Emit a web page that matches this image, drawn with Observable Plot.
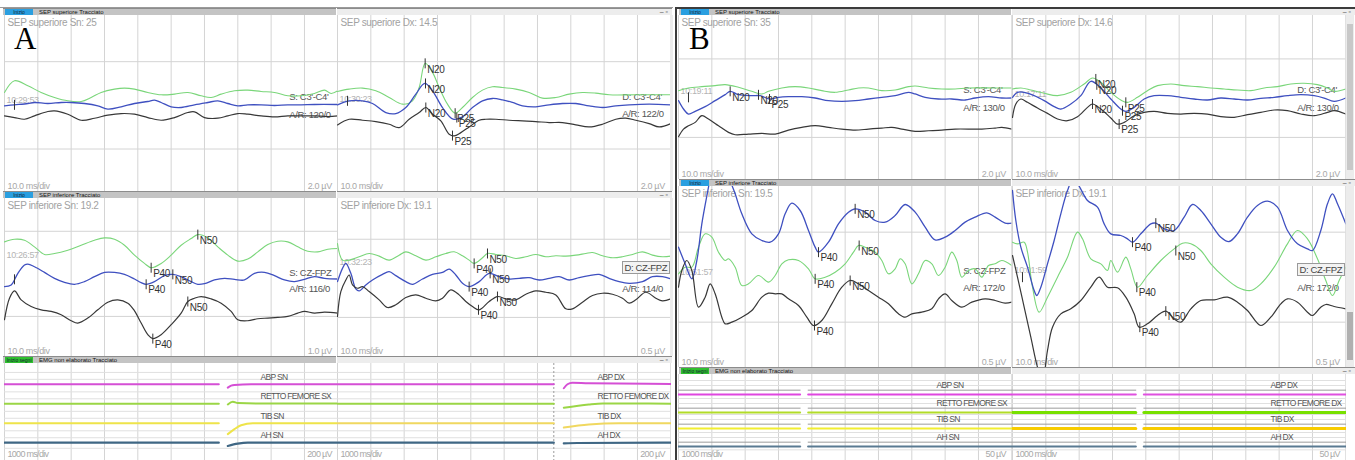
<!DOCTYPE html>
<html><head><meta charset="utf-8">
<script src="https://cdn.jsdelivr.net/npm/d3@7"></script>
<script src="https://cdn.jsdelivr.net/npm/@observablehq/plot@0.6"></script>
<style>
html,body{margin:0;padding:0;background:#fff;}
#root{position:relative;width:1355px;height:460px;overflow:hidden;font-family:"Liberation Sans",Arial,sans-serif;background:#fff;}
#root svg{display:block;}
</style></head>
<body><div id="root"></div>
<script>
// ===================== DATA (time ms, amplitude µV) =====================
// Panel A – SEP superiore Sn
const A_supSn_green = [[0,.5],[3,1.2],[7,.9],[11,.5],[15,.2],[19,0],[23,-.04],[26,.2],[29,.5],[33,.7],[36,.76],[39,.7],[43,.5],[47,.36],[51,.4],[55,.5],[59,.3],[62,.2],[65,.4],[69,.6],[73,.64],[77,.56],[81,.5],[85,.3],[89,.3],[93,.44],[96,.64],[98,.44],[100,.6]];
const A_supSn_blue = [[0,-.3],[3,-.24],[7,-.16],[9,-.1],[13,-.16],[17,-.1],[20,-.1],[24,-.16],[28,-.3],[31,-.5],[35,-.36],[39,-.16],[43,-.04],[45,.04],[47,-.1],[50,-.36],[53,-.4],[57,-.24],[61,-.1],[64,0],[67,-.16],[70,-.3],[73,-.24],[77,-.24],[81,-.28],[85,-.24],[89,-.24],[93,-.22],[100,-.22]];
const A_supSn_black = [[0,-.9],[3,-1],[6,-1.1],[9,-.9],[13,-.64],[15,-.6],[19,-.8],[23,-1.16],[27,-1.04],[31,-.86],[35,-.76],[39,-.8],[43,-1],[47,-1.16],[51,-1],[55,-.7],[57,-.66],[60,-1],[64,-1.04],[67,-.9],[70,-.76],[73,-.8],[77,-.9],[81,-.96],[85,-.9],[89,-.9],[93,-.9],[97,-.94],[100,-.9]];
const A_supSn_peaks = [["",3,-.24]];
// Panel A – SEP superiore Dx
const A_supDx_green = [[0,.56],[3.5,.7],[7.5,.76],[11.5,.6],[15.5,.2],[19.5,-.2],[22.5,0],[24.5,.8],[26.3,2.24],[28.5,1.7],[30.5,.8],[33,-.2],[35.3,-.74],[37.5,-.4],[40.5,.2],[43.5,.64],[46.5,.84],[49.5,.8],[53.5,.7],[57.5,.5],[61.5,.16],[65.5,.2],[69.5,.4],[73.5,.5],[77.5,.46],[81.5,.36],[89.5,.36],[100,.36]];
const A_supDx_blue = [[0,-.24],[3.5,0],[7.5,0],[10.5,-.16],[14.5,-.7],[17.5,-.76],[20.5,-.4],[23.5,.4],[26.2,1.04],[28.5,.6],[31.5,-.4],[34.7,-1.1],[37.5,-.96],[40.5,-.4],[43.5,0],[46.5,.14],[49.5,.06],[52.5,-.1],[55.5,-.3],[59.5,-.36],[63.5,-.24],[67.5,-.16],[71.5,-.16],[75.5,-.3],[79.5,-.4],[83.5,-.3],[87.5,-.24],[93.5,-.2],[100,-.24]];
const A_supDx_black = [[0,-1.44],[3.5,-1.1],[7.5,-1.16],[11.5,-1.24],[15.5,-1.4],[18.5,-1.6],[21.5,-1.1],[24.5,-.7],[26.5,-.4],[28.5,-.8],[31,-1.2],[33.5,-2],[35,-2.1],[37,-1.9],[39.5,-1.56],[42.5,-1.16],[44.5,-1.1],[47.5,-1.1],[51.5,-1.16],[55.5,-1.2],[59.5,-1.24],[63.5,-1.3],[67.5,-1.3],[71.5,-1.44],[75.5,-1.56],[79.5,-1.4],[83.5,-1.1],[86.5,-1.04],[89.5,-1.16],[93.5,-1.36],[96.5,-1.56],[100,-1.36]];
const A_supDx_peaks = [["N20",26.3,2.24],["N20",26.4,1.04],["N20",26.5,-.4],["P25",35.3,-.74],["P25",35.8,-1.0],["P25",34.5,-2.08],["",3,0]];
// Panel A – SEP inferiore Sn
const A_infSn_green = [[0,.8],[3,.88],[6,.85],[9,.65],[12,.42],[15,.45],[19,.55],[23,.7],[27,.85],[30,.92],[33,.88],[36,.7],[39,.4],[42,.15],[44,.02],[47,.15],[50,.4],[53,.7],[56,.9],[58,1.02],[61,.92],[64,.65],[67,.4],[70,.22],[73,.28],[76,.5],[79,.72],[82,.82],[85,.8],[88,.65],[91,.52],[94,.5],[97,.58],[100,.6]];
const A_infSn_blue = [[0,-.55],[2,-.5],[4,-.15],[6,.1],[7,.13],[9,.05],[12,-.12],[15,-.3],[18,-.42],[21,-.48],[24,-.4],[27,-.25],[30,-.12],[33,-.12],[36,-.18],[39,-.32],[41,-.43],[42.5,-.48],[45,-.4],[48,-.22],[50.5,-.18],[53,-.25],[56,-.4],[58,-.48],[60,-.46],[63,-.35],[66,-.3],[69,-.33],[72,-.35],[75,-.15],[78,-.12],[81,-.22],[84,-.35],[87,-.4],[90,-.33],[93,-.25],[96,-.3],[100,-.32]];
const A_infSn_black = [[0,-1.55],[1.5,-.9],[3,-.68],[5,-.95],[8,-1.15],[11,-1.25],[14,-1.3],[17,-1.4],[20,-1.58],[22,-1.65],[25,-1.5],[28,-1.25],[31,-1.02],[34,-.95],[37,-1.05],[39,-1.28],[41,-1.65],[43,-2],[44.5,-2.12],[47,-2],[50,-1.7],[53,-1.35],[55,-1],[57,-.9],[59,-.85],[62,-.92],[65,-1.05],[68,-1.3],[70,-1.55],[73,-1.58],[76,-1.52],[79,-1.5],[82,-1.48],[85,-1.45],[88,-1.35],[90,-1.3],[93,-1.35],[96,-1.32],[100,-1.35]];
const A_infSn_peaks = [["P40",44,.02],["N50",58,1.02],["P40",42.5,-.48],["N50",50.5,-.18],["P40",44.5,-2.12],["N50",55,-1],["",3,-.33]];
// Panel A – SEP inferiore Dx
const A_infDx_green = [[0,.375],[1.5,.125],[3.5,.125],[6.5,.175],[9.5,.225],[12.5,.185],[15.5,.125],[18.5,.2],[20.5,.25],[23.5,.19],[26.5,.125],[29.5,.175],[32.5,.225],[35,.25],[37.5,.19],[39.5,.125],[41,.075],[43.5,.16],[45,.225],[47.5,.21],[50.5,.19],[53.5,.15],[56.5,.175],[59.5,.21],[62.5,.175],[65.5,.19],[68.5,.185],[71.5,.2],[74.5,.225],[76.5,.24],[79.5,.19],[82.5,.16],[85.5,.175],[88.5,.21],[91.5,.25],[94.5,.2],[97.5,.175],[100,.185]];
const A_infDx_blue = [[0,-.2],[1.5,0],[2.5,.075],[4,-.075],[5.5,-.31],[6.5,-.34],[8.5,-.25],[10.5,-.175],[13.5,-.09],[15.5,-.05],[17.5,-.11],[20.5,-.2],[22.5,-.24],[25.5,-.16],[28.5,-.09],[31.5,-.06],[33.5,-.01],[35.5,-.1],[37.5,-.225],[39.5,-.275],[42.5,-.2],[45.5,-.075],[48.5,-.125],[51.5,-.16],[54.5,-.15],[57.5,-.14],[60.5,-.175],[63.5,-.15],[66.5,-.125],[69.5,-.175],[72.5,-.14],[75.5,-.11],[78.5,-.09],[81.5,-.15],[84.5,-.2],[87.5,-.225],[91.5,-.2],[94.5,-.125],[97.5,-.125],[100,-.16]];
const A_infDx_black = [[0,-.725],[1,-.35],[2.5,-.175],[3.5,-.1],[4.5,-.25],[6,-.3],[7.5,-.275],[9.5,-.35],[12.5,-.475],[15,-.59],[17.5,-.55],[20.5,-.44],[23.5,-.4],[26.5,-.45],[29.5,-.49],[31.5,-.45],[34,-.325],[36.5,-.4],[38.5,-.5],[40.5,-.575],[42.5,-.625],[45.5,-.5],[48,-.425],[50.5,-.46],[53.5,-.475],[56.5,-.39],[59.5,-.34],[62.5,-.36],[65.5,-.4],[68.5,-.61],[70.5,-.61],[73.5,-.51],[76.5,-.41],[79.5,-.375],[82.5,-.39],[85.5,-.45],[87.5,-.525],[89.5,-.475],[92.5,-.36],[95.5,-.45],[97.5,-.49],[100,-.46]];
const A_infDx_peaks = [["P40",41,.075],["N50",45,.225],["P40",39.5,-.275],["N50",45.8,-.075],["P40",42.3,-.625],["N50",48,-.425]];
// Panel B – SEP superiore Sn
const B_supSn_green = [[0,.6],[3,.76],[7,.84],[11,.9],[14,.96],[18,.8],[22,.56],[25,.4],[27,.56],[31,.76],[35,.84],[39,.76],[43,.6],[47,.5],[51,.64],[54,.76],[57,.76],[61,.6],[65,.64],[69,.84],[71,.88],[75,.76],[79,.7],[83,.7],[87,.76],[95,.76],[100,.76]];
const B_supSn_blue = [[0,0],[1.5,-.5],[3,-.8],[5,-.64],[8,-.36],[11,0],[14,.36],[15.5,.56],[18,.36],[22,.3],[24.5,.3],[27.3,.1],[30,.2],[33,.24],[37,.24],[41,.16],[45,0],[49,-.04],[53,0],[57,.1],[61,.2],[65,.3],[69,.5],[71,.4],[74,.2],[78,.1],[82,.1],[86,.04],[89,.16],[93,.24],[97,.16],[100,.16]];
const B_supSn_black = [[0,-2.16],[1.5,-1.7],[3,-1.5],[5,-1.3],[7,-.9],[9,-1.1],[12,-1.5],[15,-1.9],[17,-2.04],[21,-2],[25,-1.96],[29,-2],[33,-1.76],[37,-1.6],[41,-1.5],[45,-1.6],[49,-1.7],[53,-1.76],[57,-1.7],[61,-1.64],[64,-1.6],[67,-1.7],[71,-1.84],[75,-1.8],[79,-1.76],[83,-1.7],[91,-1.7],[95,-1.64],[97,-1.6],[100,-1.7]];
const B_supSn_peaks = [["N20",15.5,.56],["N20",24,.35],["P25",27.3,.1],["",3,.2]];
// Panel B – SEP superiore Dx
const B_supDx_green = [[0,.7],[2.5,.76],[5.5,.64],[9.5,.44],[13.5,.3],[17.5,.5],[21.5,1],[24,1.36],[26.5,1.1],[29.5,.5],[32.5,.04],[34.5,-.1],[37.5,.2],[40.5,.6],[43.5,.9],[47.5,1],[51.5,.9],[55.5,.84],[59.5,.76],[63.5,.7],[67.5,.64],[71.5,.6],[75.5,.76],[79.5,.84],[83.5,1],[87.5,1.04],[91.5,.96],[94.5,.76],[96.5,.56],[100,.7]];
const B_supDx_blue = [[0,.2],[1.5,.5],[3.5,.5],[6.5,.3],[9.5,0],[12.5,-.36],[14.5,-.5],[17.5,-.2],[20.5,.3],[23.5,1.16],[26.5,.76],[29.5,.1],[32.5,-.5],[34,-.64],[36.5,-.4],[39.5,.1],[42.5,.3],[46.5,.3],[50.5,.2],[54.5,.1],[58.5,.04],[62.5,.16],[66.5,.1],[70.5,.04],[74.5,.14],[78.5,.2],[82.5,.3],[86.5,.36],[90.5,.3],[93.5,.16],[96.5,-.04],[100,.16]];
const B_supDx_black = [[0,-1],[1,-.2],[2.5,.1],[4.5,-.1],[7.5,-.44],[10.5,-.76],[13.5,-1.1],[16.5,-1.2],[19.5,-.96],[22.5,-.4],[24,-.2],[26.5,-.5],[29.5,-1.04],[31.5,-1.4],[33.5,-1.3],[36.5,-.9],[39.5,-.7],[42.5,-.64],[46.5,-.76],[50.5,-.8],[54.5,-.76],[58.5,-.8],[62.5,-.96],[66.5,-1],[70.5,-.84],[74.5,-.7],[78.5,-.56],[82.5,-.6],[86.5,-.8],[90.5,-.9],[94.5,-.7],[96.5,-.6],[100,-.8]];
const B_supDx_peaks = [["N20",25,1.3],["N20",25.3,.95],["N20",24,-.2],["P25",34,-.1],["P25",33,-.6],["P25",32,-1.4]];
// Panel B – SEP inferiore Sn
const B_infSn_blue = [[0,.25],[2,0],[4,-.225],[5.5,.05],[7,.6],[9,1.15],[10.5,1.55],[13,1.65],[15.5,1.25],[17,1.05],[19,.75],[22,.45],[25,.35],[27.5,.325],[30,.45],[32,.75],[34,.91],[36.5,.8],[39,.5],[41,.25],[42,.175],[45,.325],[48,.6],[51,.775],[53,.825],[56,.775],[59,.65],[62,.625],[65,.725],[68,.89],[71,.775],[74,.55],[77,.36],[80,.4],[83,.5],[86,.625],[89,.7],[92.5,.765],[95,.7],[98,.61],[100,.61]];
const B_infSn_green = [[0,-.15],[2,-.05],[4,-.05],[6,.25],[8,.45],[10,.4],[12,.175],[14,.05],[15,.075],[17,-.05],[19,-.325],[21,-.3],[24,-.175],[27,-.275],[29,-.175],[31,0],[33,.06],[36,.05],[39,-.075],[41,-.225],[44,-.2],[47,-.125],[50,0],[52.5,.175],[54,.275],[56,.25],[59,.175],[61,.05],[63,-.15],[65,-.075],[66.5,.075],[68,0],[70,-.3],[72,-.15],[74,.05],[76,0],[78,-.175],[80,-.05],[82,.175],[83.5,.05],[85,-.2],[87,-.1],[89,-.075],[91,-.2],[93,-.025],[95,0],[97,.05],[100,-.025]];
const B_infSn_black = [[0,-.35],[1,-.1],[2.5,.05],[4,-.1],[6,-.65],[8,-.5],[9.5,-.3],[11,-.45],[13,-.8],[14,-.9],[16,-.875],[19,-.8],[22,-.7],[25,-.5],[27,-.44],[29,-.45],[31,-.45],[33,-.525],[36,-.625],[38.5,-.8],[40.5,-.925],[43,-.85],[46,-.6],[49,-.35],[51.5,-.25],[54,-.3],[57,-.4],[60,-.5],[63,-.6],[66,-.75],[68,-.8],[70,-.75],[73,-.725],[76,-.675],[78,-.525],[80,-.45],[82,-.55],[85,-.65],[88,-.575],[92,-.525],[95,-.55],[98,-.59],[100,-.575]];
const B_infSn_peaks = [["P40",42,.175],["N50",53,.825],["P40",41,-.225],["N50",54.2,.275],["P40",40.8,-.925],["N50",51.5,-.25]];
// Panel B – SEP inferiore Dx
const B_infDx_blue = [[0,1.1],[1,.65],[2.5,.25],[4.5,-.05],[6.5,-.4],[7.3,-.475],[8.5,-.35],[10.5,0],[12.5,.35],[14.5,.75],[16.5,1.1],[18,1.25],[19.5,1.2],[22.5,.95],[25.5,.85],[27.5,.6],[29.5,.45],[32.5,.425],[34.5,.375],[36,.325],[38.5,.45],[41.5,.6],[43,.61],[45.5,.525],[48.5,.5],[51.5,.7],[54,.89],[56.5,.8],[59.5,.6],[62.5,.4],[65,.335],[67.5,.45],[70.5,.7],[73.5,.875],[76.5,.94],[79.5,.85],[82.5,.5],[85.5,.3],[88.5,.225],[90,.2],[92.5,.5],[94.5,.9],[96,1.05],[97.5,.9],[100,.6]];
const B_infDx_green = [[0,.325],[1.5,.3],[3.5,.325],[4.5,.175],[6,-.35],[8,-.725],[10.5,-.5],[13.5,-.2],[16.5,.1],[19.5,.475],[21,.375],[23.5,.075],[26.5,0],[28.5,-.1],[29.5,.05],[31.5,-.125],[34,.1],[35.5,-.075],[37.5,-.35],[40.5,-.175],[44.5,.05],[48.5,.225],[51,.31],[53.5,.3],[56.5,.2],[59.5,0],[63.5,-.2],[67.5,-.35],[71.5,-.4],[74.5,-.3],[78.5,-.05],[82.5,.3],[85.5,.5],[88.5,.375],[91.5,.075],[94,-.25],[96,-.475],[98,-.25],[100,-.05]];
const B_infDx_black = [[0,.125],[1.5,-.2],[3.5,-.65],[5.5,-1.1],[7.5,-1.55],[9,-1.75],[10.5,-1.3],[12,-.95],[14.5,-.75],[17.5,-.675],[20.5,-.55],[23.5,-.35],[26,-.2],[28.5,-.35],[31.5,-.36],[34,-.5],[36.5,-.75],[38,-.95],[40.5,-.9],[43.5,-.775],[46,-.71],[48.5,-.825],[50.5,-.875],[53.5,-.675],[56.5,-.55],[60.5,-.54],[64.5,-.5],[67.5,-.575],[70.5,-.7],[74.5,-.925],[77.5,-.8],[80.5,-.6],[82.5,-.525],[85.5,-.575],[88.5,-.725],[90,-.775],[92.5,-.65],[94,-.61],[96.5,-.64],[100,-.675]];
const B_infDx_peaks = [["P40",36,.325],["N50",43,.61],["P40",37.3,-.35],["N50",49,.2],["P40",38.2,-.95],["N50",46,-.71],["",3,-.2]];

// EMG (time ms, amplitude µV; null = acquisition gap)
const emgA_chSn = ["ABP SN","RETTO FEMORE SX","TIB SN","AH SN"];
const emgA_chDx = ["ABP DX","RETTO FEMORE DX","TIB DX","AH DX"];
const emgA_Sn_ABP = [[0,0],[6430,0],[6430,null],[6700,-20],[6800,-8],[6900,-4],[7400,0],[10000,0]];
const emgA_Sn_RF  = [[0,0],[6430,0],[6430,null],[6700,-4],[6850,12],[7000,4],[7600,2],[10000,2]];
const emgA_Sn_TIB = [[0,0],[6430,0],[6430,null],[6700,-66],[6900,-36],[7100,-12],[7450,0],[10000,0]];
const emgA_Sn_AH  = [[0,0],[6430,0],[6430,null],[6700,-20],[7000,-6],[7300,0],[10000,0]];
const emgA_Dx_ABP = [[0,0],[6490,0],[6490,null],[6790,-24],[6900,0],[7050,10],[7540,6],[10000,2]];
const emgA_Dx_RF  = [[0,0],[6490,0],[6490,null],[6790,-24],[7540,-4],[7960,2],[10000,0]];
const emgA_Dx_TIB = [[0,0],[6490,0],[6490,null],[6790,-26],[7540,-8],[8440,0],[10000,0]];
const emgA_Dx_AH  = [[0,0],[6490,0],[6490,null],[6790,-4],[7200,-2],[10000,0]];
const emgB_Sn_trace = [[0,0],[3650,0],[3650,null],[3890,0],[10000,0]];
const emgB_Sn_raw   = [[0,6.5],[3650,6.5],[3650,null],[3890,6.5],[10000,6.5]];
const emgB_Dx_trace = [[0,0],[3700,0],[3700,null],[3940,0],[10000,0]];
const emgB_Dx_raw   = [[0,6.5],[3700,6.5],[3700,null],[3940,6.5],[10000,6.5]];

// ===================== RENDERING =====================
const root = document.getElementById("root");
function div(style, text){const d=document.createElement("div");d.style.cssText="position:absolute;"+style;if(text!=null)d.textContent=text;root.appendChild(d);return d;}
function place(node,left,top){const w=div(`left:${left}px;top:${top}px;`);w.appendChild(node);return w;}

const GREEN="#7ad67a", BLUE="#3f50c0", BLACK="#383838";
const msGrid = d3.range(0,101,10);
const sGrid = d3.range(0,10001,1000);
const tickSymbol = {draw(ctx,size){const r=Math.sqrt(size/Math.PI);ctx.moveTo(0,-r);ctx.lineTo(0,r);}};
const W = 334, FR = 333.3;
const FONT = "'Liberation Sans',Arial,sans-serif";

function sepPanel(p){
  const marks = [
    Plot.ruleX(msGrid,{stroke:"#d4d4d4",strokeWidth:1}),
    Plot.ruleY(p.grid,{stroke:"#d4d4d4",strokeWidth:1}),
    Plot.text([p.title],{text:d=>d,frameAnchor:"top-left",dx:3,dy:3,lineAnchor:"top",fill:"#a2a2a2",fontSize:10}),
    Plot.text([p.clock],{text:d=>d,frameAnchor:"left",dx:2,dy:p.clockDy,fill:"#b4b4b4",fontSize:9}),
    Plot.text(["10.0 ms/div"],{text:d=>d,frameAnchor:"bottom-left",dx:3,dy:-3,lineAnchor:"bottom",fill:"#a8a8a8",fontSize:9}),
    Plot.text([p.gain],{text:d=>d,frameAnchor:"bottom-right",dx:-6,dy:-3,lineAnchor:"bottom",fill:"#a8a8a8",fontSize:9}),
    Plot.text([p.ar],{text:d=>d,frameAnchor:"right",textAnchor:"start",dx:-48.5,dy:p.arDy,fill:"#555",fontSize:9.5})
  ];
  if(!p.boxed) marks.push(Plot.text([p.montage],{text:d=>d,frameAnchor:"right",textAnchor:"start",dx:-48.5,dy:p.montageDy,fill:"#555",fontSize:9.5}));
  for(const [data,color,w] of p.traces)
    marks.push(Plot.line(data,{x:d=>d[0],y:d=>d[1],stroke:color,strokeWidth:w,curve:"catmull-rom",clip:true}));
  marks.push(Plot.dot(p.peaks,{x:d=>d[1],y:d=>d[2],symbol:tickSymbol,r:5,stroke:"#333",fill:"none",strokeWidth:1}));
  marks.push(Plot.text(p.peaks,{x:d=>d[1],y:d=>d[2],text:d=>d[0],dx:2,dy:6,textAnchor:"start",fill:"#333",fontSize:10}));
  const svg = Plot.plot({width:W,height:p.height,marginTop:0,marginBottom:0,marginLeft:0,marginRight:W-FR,
    x:{domain:[0,100],axis:null},y:{domain:p.domain,axis:null},
    style:{background:"#fff",overflow:"hidden",fontFamily:FONT},marks});
  svg.style.letterSpacing = "-0.35px";
  place(svg,p.left,p.top);
  if(p.boxed){
    div(`left:${p.left+FR-48.5}px;top:${p.top+p.height/2+p.montageDy-6}px;border:1px solid #9a9a9a;background:#f3f3f3;font-size:9.5px;line-height:11px;letter-spacing:-0.35px;padding:0 2px;color:#444;white-space:nowrap;`,p.montage);
  }
}

function emgPanel(p){
  const marks=[
    Plot.ruleX(sGrid,{stroke:"#d4d4d4"}),
    Plot.ruleY(p.grid,{stroke:"#e0e0e0"})
  ];
  if(p.gapAt!=null) marks.push(Plot.ruleX([p.gapAt],{stroke:"#9a9a9a",strokeDasharray:"2,2"}));
  p.channels.forEach((name,i)=>{
    const off=p.offsets[i];
    if(p.raw) marks.push(Plot.line(p.raw[i],{x:d=>d[0],y:d=>d[1]==null?null:d[1]+off,stroke:"#9c9c9c",strokeWidth:1}));
    marks.push(Plot.line(p.traces[i],{x:d=>d[0],y:d=>d[1]==null?null:d[1]+off,stroke:p.colors[i],strokeWidth:p.widths[i],curve:"monotone-x"}));
  });
  marks.push(Plot.text(p.channels,{text:d=>d,y:(d,i)=>p.offsets[i],frameAnchor:"left",dx:p.labelDx,dy:p.labelDy,textAnchor:"start",fill:"#555",fontSize:8.5,letterSpacing:"-0.8px"}));
  marks.push(Plot.text(["1000 ms/div"],{text:d=>d,frameAnchor:"bottom-left",dx:3,dy:-4,lineAnchor:"bottom",fill:"#a8a8a8",fontSize:9}));
  marks.push(Plot.text([p.gain],{text:d=>d,frameAnchor:"bottom-right",dx:-6,dy:-4,lineAnchor:"bottom",fill:"#a8a8a8",fontSize:9}));
  const svg=Plot.plot({width:W,height:p.height,marginTop:0,marginBottom:0,marginLeft:0,marginRight:W-FR,
    x:{domain:[0,10000],axis:null},y:{domain:p.domain,axis:null},
    style:{background:"#fff",overflow:"hidden",fontFamily:FONT},marks});
  svg.style.letterSpacing = "-0.7px";
  place(svg,p.left,p.top);
}

// --- chrome: headers
function header(x,y,w,label,btn,btnColor){
  const h=div(`left:${x}px;top:${y}px;width:${w}px;height:6px;background:#c4c4c4;border-top:1px solid #8c8c8c;overflow:hidden;`);
  const b=document.createElement("span");b.style.cssText=`position:absolute;left:2px;top:0;width:28px;height:6px;background:${btnColor};font-size:5px;line-height:6px;text-align:center;color:#123;`;b.textContent=btn;h.appendChild(b);
  const t=document.createElement("span");t.style.cssText="position:absolute;left:36px;top:0;font-size:6px;line-height:6px;color:#111;white-space:nowrap;";t.textContent=label;h.appendChild(t);
}
function rheader(x,y,w){
  const h=div(`left:${x}px;top:${y}px;width:${w}px;height:6px;background:#ededed;border-top:1px solid #8c8c8c;overflow:hidden;`);
  const t=document.createElement("span");t.style.cssText="position:absolute;right:4px;top:-1px;font-size:7px;line-height:7px;color:#555;";t.textContent="– ▫";h.appendChild(t);
}

// Panel A
header(3,8,333,"SEP superiore Tracciato","Inizio","#2a9fe0"); rheader(337,8,335);
header(3,191,333,"SEP inferiore Tracciato","Inizio","#2a9fe0"); rheader(337,191,335);
header(3,356,333,"EMG non elaborato Tracciato","Inizio segni","#2fc02f"); rheader(337,356,335);
// Panel B
header(679,8,332,"SEP superiore Tracciato","Inizio","#2a9fe0"); rheader(1012,8,343);
header(679,179,332,"SEP inferiore Tracciato","Inizio","#2a9fe0"); rheader(1012,179,343);
header(679,367,332,"EMG non elaborato Tracciato","Inizio segni","#2fc02f"); rheader(1012,367,343);

// SEP panels
sepPanel({left:3.7,top:15,height:176,domain:[-5.42,5.1],grid:[2.34,-2.88],title:"SEP superiore Sn: 25",clock:"10:29:53",clockDy:-3.5,
  montage:"S: C3'-C4'",montageDy:-6.5,ar:"A/R: 120/0",arDy:11.5,gain:"2.0 µV",
  traces:[[A_supSn_green,GREEN,1.1],[A_supSn_blue,BLUE,1.3],[A_supSn_black,BLACK,1.2]],peaks:A_supSn_peaks});
sepPanel({left:336.7,top:15,height:176,domain:[-5.42,5.1],grid:[2.34,-2.88],title:"SEP superiore Dx: 14.5",clock:"10:30:23",clockDy:-4.5,
  montage:"D: C3'-C4'",montageDy:-6.5,ar:"A/R: 122/0",arDy:10.5,gain:"2.0 µV",
  traces:[[A_supDx_green,GREEN,1.1],[A_supDx_blue,BLUE,1.3],[A_supDx_black,BLACK,1.2]],peaks:A_supDx_peaks});
sepPanel({left:3.7,top:198,height:158,domain:[-2.66,2.11],grid:[1.12,-1.45],title:"SEP inferiore Sn: 19.2",clock:"10:26:57",clockDy:-22,
  montage:"S: CZ-FPZ",montageDy:-5,ar:"A/R: 116/0",arDy:11,gain:"1.0 µV",
  traces:[[A_infSn_green,GREEN,1.1],[A_infSn_blue,BLUE,1.3],[A_infSn_black,BLACK,1.2]],peaks:A_infSn_peaks});
sepPanel({left:336.7,top:198,height:158,domain:[-1.33,1.055],grid:[0.44,-0.74],title:"SEP inferiore Dx: 19.1",clock:"10:32:23",clockDy:-15,
  montage:"D: CZ-FPZ",montageDy:-10,ar:"A/R: 114/0",arDy:11,gain:"0.5 µV",boxed:true,
  traces:[[A_infDx_green,GREEN,1.1],[A_infDx_blue,BLUE,1.3],[A_infDx_black,BLACK,1.2]],peaks:A_infDx_peaks});
sepPanel({left:678.3,top:15,height:164,domain:[-4.72,5.1],grid:[2.5,-2.2],title:"SEP superiore Sn: 35",clock:"10:19:11",clockDy:-6.5,
  montage:"S: C3'-C4'",montageDy:-7.5,ar:"A/R: 130/0",arDy:10.5,gain:"2.0 µV",
  traces:[[B_supSn_green,GREEN,1.1],[B_supSn_blue,BLUE,1.3],[B_supSn_black,BLACK,1.2]],peaks:B_supSn_peaks});
sepPanel({left:1011.7,top:15,height:164,domain:[-4.72,5.1],grid:[2.5,-2.2],title:"SEP superiore Dx: 14.6",clock:"10:17:11",clockDy:-3.5,
  montage:"D: C3'-C4'",montageDy:-7.5,ar:"A/R: 130/0",arDy:10.5,gain:"2.0 µV",
  traces:[[B_supDx_green,GREEN,1.1],[B_supDx_blue,BLUE,1.3],[B_supDx_black,BLACK,1.2]],peaks:B_supDx_peaks});
sepPanel({left:678.3,top:186,height:181,domain:[-1.555,1.16],grid:[0.475,-0.875],title:"SEP inferiore Sn: 19.5",clock:"10:51:57",clockDy:-5,
  montage:"S: CZ-FPZ",montageDy:-6.5,ar:"A/R: 172/0",arDy:10.5,gain:"0.5 µV",
  traces:[[B_infSn_green,GREEN,1.1],[B_infSn_blue,BLUE,1.3],[B_infSn_black,BLACK,1.2]],peaks:B_infSn_peaks});
sepPanel({left:1011.7,top:186,height:181,domain:[-1.555,1.16],grid:[0.475,-0.875],title:"SEP inferiore Dx: 19.1",clock:"10:01:59",clockDy:-6.5,
  montage:"D: CZ-FPZ",montageDy:-7.5,ar:"A/R: 172/0",arDy:10.5,gain:"0.5 µV",boxed:true,
  traces:[[B_infDx_green,GREEN,1.1],[B_infDx_blue,BLUE,1.3],[B_infDx_black,BLACK,1.2]],peaks:B_infDx_peaks});

// EMG panels
const emgA_offsets=[0,-118,-236,-354];
const emgA_grid=emgA_offsets.flatMap(o=>[o+72,o+30]).concat([-388]);
emgPanel({left:3.7,top:363,height:97,domain:[-462,126],grid:emgA_grid,offsets:emgA_offsets,channels:emgA_chSn,
  traces:[emgA_Sn_ABP,emgA_Sn_RF,emgA_Sn_TIB,emgA_Sn_AH],colors:["#d54fd5","#9bd646","#eee44a","#3f6784"],widths:[2,2,2,2.2],
  labelDx:256,labelDy:-7,gain:"200 µV"});
emgPanel({left:336.7,top:363,height:97,domain:[-462,126],grid:emgA_grid,offsets:emgA_offsets,channels:emgA_chDx,gapAt:6490,
  traces:[emgA_Dx_ABP,emgA_Dx_RF,emgA_Dx_TIB,emgA_Dx_AH],colors:["#d54fd5","#9bd646","#f0d860","#3f6784"],widths:[2,2,2,2.2],
  labelDx:260,labelDy:-7,gain:"200 µV"});
const emgB_offsets=[0,-27,-51,-78];
const emgB_grid=emgB_offsets.flatMap(o=>[o+21,o+13.5]).concat([-83]);
emgPanel({left:678.3,top:374,height:86,domain:[-99,30],grid:emgB_grid,offsets:emgB_offsets,channels:emgA_chSn,
  traces:[emgB_Sn_trace,emgB_Sn_trace,emgB_Sn_trace,emgB_Sn_trace],raw:[emgB_Sn_raw,emgB_Sn_raw,emgB_Sn_raw,emgB_Sn_raw],
  colors:["#e046e0","#b2dc28","#f2ee30","#5a7a92"],widths:[2,2,2,2.2],labelDx:258,labelDy:-9,gain:"50 µV"});
emgPanel({left:1011.7,top:374,height:86,domain:[-99,30],grid:emgB_grid,offsets:emgB_offsets,channels:emgA_chDx,
  traces:[emgB_Dx_trace,emgB_Dx_trace,emgB_Dx_trace,emgB_Dx_trace],raw:[emgB_Dx_raw,emgB_Dx_raw,emgB_Dx_raw,emgB_Dx_raw],
  colors:["#e050e0","#78e000","#f8cc00","#5a7a92"],widths:[2,3,3,2.2],labelDx:258,labelDy:-9,gain:"50 µV"});

// frame / dividers / scrollbars
div("left:0;top:7px;width:673px;height:1px;background:#9a9a9a;");
div("left:676px;top:7px;width:679px;height:2px;background:#3c3c3c;");
div("left:673px;top:0;width:3px;height:460px;background:#fff;");
div("left:675px;top:7px;width:2px;height:453px;background:#3c3c3c;");
div("left:670px;top:15px;width:3px;height:176px;background:#ececec;");
div("left:670px;top:198px;width:3px;height:158px;background:#ececec;");
div("left:1346px;top:15px;width:8px;height:164px;background:#ececec;");
div("left:1347px;top:24px;width:6px;height:146px;background:#c8c8c8;");
div("left:1346px;top:186px;width:8px;height:181px;background:#ececec;");
div("left:1347px;top:312px;width:6px;height:48px;background:#b0b0b0;");
// panel letters
div("left:14px;top:23px;font-family:'Liberation Serif','Times New Roman',serif;font-size:31px;line-height:31px;color:#000;","A");
div("left:689px;top:23px;font-family:'Liberation Serif','Times New Roman',serif;font-size:31px;line-height:31px;color:#000;","B");
</script>
</body></html>
